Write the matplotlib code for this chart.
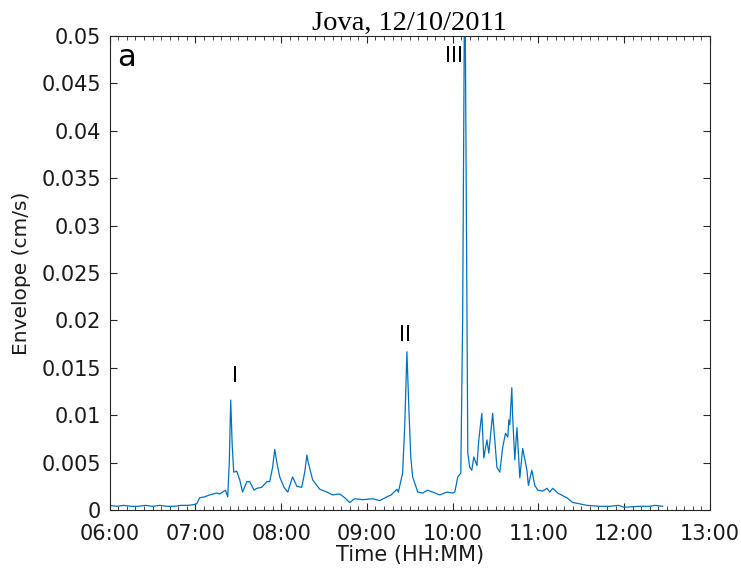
import matplotlib.pyplot as plt
from matplotlib.ticker import MultipleLocator, FuncFormatter

# time in minutes after 06:00, envelope in cm/s
minutes = [0, 5, 10, 15, 20, 25, 30, 35, 40, 45, 50, 55, 60, 61, 63, 66.5, 70, 75, 77, 79, 81,
           82.6, 83.7, 84.7, 85.7, 86.8, 88.9, 91, 93, 96, 98, 101, 103, 106.4, 110, 112, 114,
           115.5, 117, 119, 122, 124.6, 128, 131, 134.4, 136.5, 138, 139, 142, 147, 152, 156,
           161, 164.5, 168, 171.5, 177, 184, 189, 194, 197, 201, 202, 205, 206.5, 208, 209.3,
           210.7, 212, 215.6, 219, 222.6, 226, 231, 236, 240, 241.5, 243.6, 245.7, 247, 248.5,
           250, 250.6, 252, 253.4, 254.8, 257, 258.3, 260.4, 261.8, 264, 265.3, 268, 271, 273,
           275, 277, 278.6, 279.3, 280, 281.4, 282, 283.5, 285, 287, 289, 292, 293, 295.4,
           297.5, 299.6, 303, 306, 308, 310, 313.6, 316, 320, 324, 327.6, 334, 343, 350, 356,
           360, 371, 378, 381.5, 387]
envelope = [0.0005, 0.0004, 0.0005, 0.0004, 0.0004, 0.0005, 0.0004, 0.0005, 0.0004, 0.0004,
            0.0005, 0.0005, 0.0006, 0.0007, 0.0013, 0.0014, 0.0016, 0.0018, 0.0017, 0.0019,
            0.0021, 0.0014, 0.0050, 0.0116, 0.0070, 0.0040, 0.0041, 0.0032, 0.0019, 0.0030,
            0.0030, 0.0021, 0.0023, 0.0024, 0.0030, 0.0030, 0.0045, 0.0064, 0.0050, 0.0035,
            0.0024, 0.0019, 0.0035, 0.0025, 0.0024, 0.0040, 0.0058, 0.0050, 0.0032, 0.0022,
            0.0019, 0.0016, 0.0017, 0.0013, 0.0008, 0.0012, 0.0011, 0.0012, 0.0010, 0.0014,
            0.0016, 0.0022, 0.0019, 0.0039, 0.0090, 0.0167, 0.0110, 0.0056, 0.0035, 0.0019,
            0.0018, 0.0021, 0.0019, 0.0016, 0.0019, 0.0018, 0.0019, 0.0035, 0.0039, 0.0200,
            0.0600, 0.0200, 0.0060, 0.0045, 0.0042, 0.0056, 0.0047, 0.0074, 0.0102, 0.0055,
            0.0074, 0.0060, 0.0102, 0.0045, 0.0040, 0.0066, 0.0081, 0.0077, 0.0095, 0.0090,
            0.0129, 0.0098, 0.0053, 0.0087, 0.0034, 0.0065, 0.0042, 0.0026, 0.0042, 0.0026,
            0.0021, 0.0020, 0.0023, 0.0019, 0.0023, 0.0018, 0.0016, 0.0013, 0.0008, 0.0007,
            0.0005, 0.0004, 0.0004, 0.0005, 0.0003, 0.0004, 0.0004, 0.0005, 0.0004]

event_labels = ['I', 'II', 'III']
event_pos = [(88, 0.0131), (207, 0.0174), (241, 0.0468)]

fig = plt.figure(figsize=(7.41, 5.79), dpi=100)
ax = fig.add_axes([0.148, 0.119, 0.81, 0.819])

ax.plot(minutes, envelope, color='#0072BD', lw=0.9)
ax.set_xlim(0, 420)
ax.set_ylim(0, 0.05)

ax.xaxis.set_major_locator(MultipleLocator(60))
ax.xaxis.set_minor_locator(MultipleLocator(6))
ax.xaxis.set_major_formatter(FuncFormatter(lambda v, p: '%02d:00' % (6 + int(round(v / 60)))))
ax.yaxis.set_major_locator(MultipleLocator(0.005))
ax.yaxis.set_major_formatter(FuncFormatter(lambda v, p: '0' if v == 0 else ('%g' % round(v, 4))))

ax.tick_params(which='both', direction='in', top=True, right=True, labelsize=15, colors='#262626',
               labelcolor='#1a1a1a')
ax.tick_params(axis='y', pad=6)
ax.tick_params(axis='x', pad=10)
ax.tick_params(which='major', length=5, width=0.8)
ax.tick_params(which='minor', length=3, width=0.6)
for s in ax.spines.values():
    s.set_color('#262626')
    s.set_linewidth(0.8)

ax.set_xlabel('Time (HH:MM)', fontsize=15, color='#1a1a1a', labelpad=1)
ax.set_ylabel('Envelope (cm/s)', fontsize=14.5, color='#1a1a1a', labelpad=8)
ax.set_title('Jova, 12/10/2011', fontsize=20.5, family='Liberation Serif', pad=3)

ax.text(0.012, 0.985, 'a', transform=ax.transAxes, fontsize=22, va='top', ha='left')
for lab, (tx, ty) in zip(event_labels, event_pos):
    ax.text(tx, ty, lab, fontsize=15, ha='center', va='bottom')

plt.savefig('out.png', dpi=100)
